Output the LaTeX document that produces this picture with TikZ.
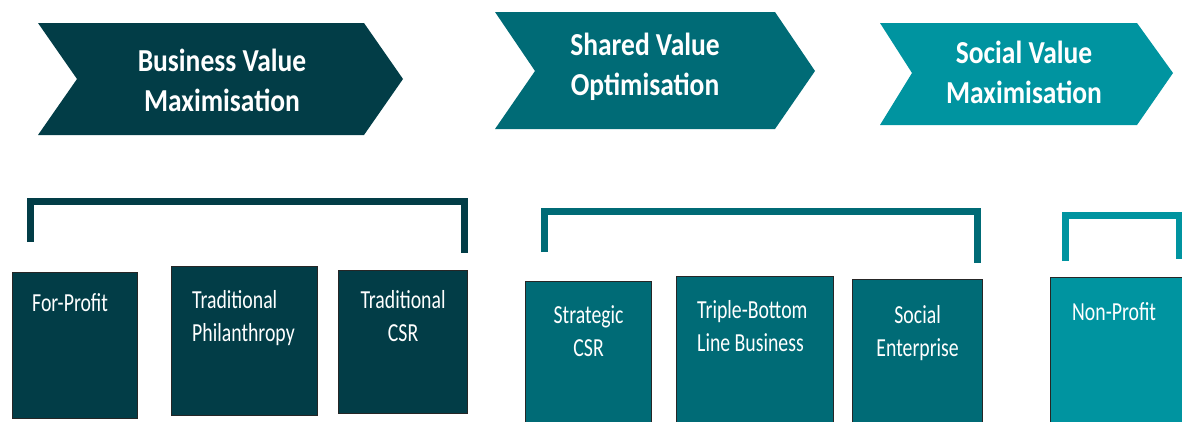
\documentclass[tikz,border=0pt]{standalone}
\usepackage{fontspec}
\newfontfamily\headfont[FakeStretch=0.86]{Carlito}
\newfontfamily\boxfont[FakeStretch=0.76]{Carlito}
\usetikzlibrary{positioning}
\definecolor{bvm}{HTML}{023D47}
\definecolor{svo}{HTML}{006B76}
\definecolor{svm}{HTML}{0094A0}
\tikzset{
 head/.style={text=white,align=center,inner sep=0,font=\headfont\bfseries\fontsize{32}{40}\selectfont},
 blk/.style={draw=black!85,line width=1.2pt,anchor=north west,inner sep=0},
 lbl/.style={text=white,inner sep=0,font=\boxfont\fontsize{26}{33}\selectfont},
 brk/.style={line width=7pt,line cap=butt,line join=miter},
}

\begin{document}
\begin{tikzpicture}[x=1pt,y=-1pt]
 \useasboundingbox (0,0) rectangle (1182,421);
 \clip (0,0) rectangle (1182,421);

 % chevrons
 \fill[bvm] (38,23) -- (364,23) -- (403,79) -- (364,135) -- (38,135) -- (77,79) -- cycle;
 \fill[svo] (495,12) -- (775,12) -- (815,71) -- (775,129) -- (495,129) -- (535,71) -- cycle;
 \fill[svm] (880,23) -- (1137,23) -- (1173,73) -- (1137,125) -- (880,125) -- (912,73) -- cycle;

 % headings
 \node[head] (h1) at (222,80) {Business Value\\Maximisation};
 \node[head] (h2) at (645,67) {Shared Value\\Optimisation};
 \node[head] (h3) at (1024,72) {Social Value\\Maximisation};

 % brackets
 \coordinate (k1l) at (30,242);
 \coordinate (k1r) at (464,253);
 \coordinate (k2l) at (544,252);
 \coordinate (k2r) at (977,263);
 \coordinate (k3l) at (1065,261);
 \coordinate (k3r) at (1179,259);
 \foreach \k/\t/\c in {1/201/bvm,2/211/svo,3/215/svm} {
  \draw[brk,\c] (k\k l) -- (k\k l |- 0,\t) -- (k\k r |- 0,\t) -- (k\k r);
 }

 % boxes
 \node[blk,fill=bvm,minimum width=125pt,minimum height=146pt] (b1) at (12,272) {};
 \node[blk,fill=bvm,minimum width=146pt,minimum height=149pt] (b2) at (171,266) {};
 \node[blk,fill=bvm,minimum width=129pt,minimum height=143pt] (b3) at (338,270) {};
 \node[blk,fill=svo,minimum width=126pt,minimum height=160pt] (b4) at (525,281) {};
 \node[blk,fill=svo,minimum width=157pt,minimum height=160pt] (b5) at (676,276) {};
 \node[blk,fill=svo,minimum width=130pt,minimum height=160pt] (b6) at (852,279) {};
 \node[blk,fill=svm,minimum width=150pt,minimum height=160pt] (b7) at (1050,277) {};

 % labels
 \node[lbl,anchor=north west,below right=21pt and 20pt of b1.north west] (l1) {For-Profit};
 \node[lbl,anchor=north west,align=left,below right=24pt and 21pt of b2.north west] (l2) {Traditional\\Philanthropy};
 \node[lbl,align=center,below=20pt of b3.north] (l3) {Traditional\\CSR};
 \node[lbl,align=center,below=24pt of b4.north] (l4) {Strategic\\CSR};
 \node[lbl,anchor=north west,align=left,below right=24pt and 21pt of b5.north west] (l5) {Triple-Bottom\\Line Business};
 \node[lbl,align=center,below=26pt of b6.north] (l6) {Social\\Enterprise};
 \node[lbl,anchor=north west,below right=25pt and 22pt of b7.north west] (l7) {Non-Profit};
\end{tikzpicture}
\end{document}
